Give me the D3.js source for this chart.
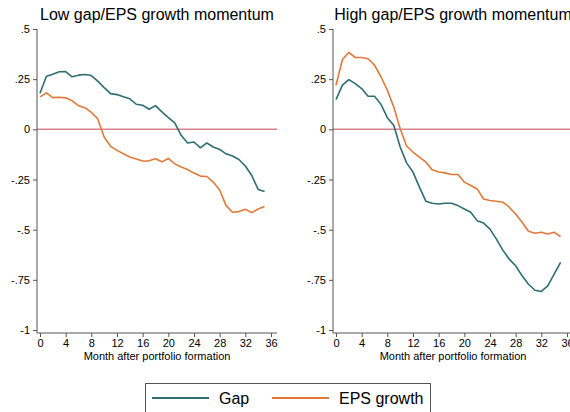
<!DOCTYPE html>
<html>
<head>
<meta charset="utf-8">
<script src="https://cdn.jsdelivr.net/npm/d3@7"></script>
<style>
  body { margin: 0; background: #fff; }
  svg { display: block; font-family: "Liberation Sans", Arial, sans-serif; }
</style>
</head>
<body>
<svg id="chart" width="570" height="412"></svg>
<script>
// months after portfolio formation
var months = d3.range(0, 36);
var xTicks = [0, 4, 8, 12, 16, 20, 24, 28, 32, 36];
var yTicks = [0.5, 0.25, 0, -0.25, -0.5, -0.75, -1];
var yTickLabels = [".5", ".25", "0", "-.25", "-.5", "-.75", "-1"];

var panelTitles = ["Low gap/EPS growth momentum", "High gap/EPS growth momentum"];
var seriesNames = ["Gap", "EPS growth"];
var seriesColors = ["#2e6e72", "#e0793a"];

// Low momentum panel
var lowGap = [0.18, 0.265, 0.275, 0.287, 0.288, 0.262, 0.27, 0.273, 0.268, 0.24,
  0.208, 0.178, 0.173, 0.162, 0.152, 0.125, 0.12, 0.10, 0.118, 0.087,
  0.058, 0.032, -0.03, -0.068, -0.063, -0.092, -0.068, -0.088, -0.1, -0.122,
  -0.133, -0.15, -0.183, -0.23, -0.30, -0.31];
var lowEps = [0.162, 0.182, 0.158, 0.16, 0.157, 0.142, 0.118, 0.108, 0.085, 0.052,
  -0.038, -0.085, -0.105, -0.122, -0.138, -0.148, -0.158, -0.157, -0.147, -0.162,
  -0.145, -0.172, -0.188, -0.2, -0.218, -0.233, -0.235, -0.263, -0.302, -0.38,
  -0.413, -0.41, -0.398, -0.415, -0.397, -0.385];

// High momentum panel
var highGap = [0.148, 0.22, 0.248, 0.228, 0.203, 0.165, 0.165, 0.125, 0.058, 0.02,
  -0.088, -0.167, -0.213, -0.288, -0.358, -0.368, -0.372, -0.368, -0.368, -0.38,
  -0.397, -0.413, -0.455, -0.467, -0.497, -0.547, -0.602, -0.647, -0.68, -0.73,
  -0.772, -0.802, -0.808, -0.78, -0.722, -0.663];
var highEps = [0.22, 0.348, 0.383, 0.358, 0.358, 0.352, 0.32, 0.262, 0.195, 0.112,
  0.003, -0.083, -0.113, -0.138, -0.163, -0.202, -0.213, -0.217, -0.225, -0.225,
  -0.263, -0.28, -0.297, -0.347, -0.355, -0.358, -0.363, -0.388, -0.422, -0.463,
  -0.508, -0.518, -0.513, -0.522, -0.513, -0.535];

var panels = [
  { title: panelTitles[0], series: [lowGap, lowEps], left: 37 },
  { title: panelTitles[1], series: [highGap, highEps], left: 333 }
];

var svg = d3.select("#chart");
var plotW = 240, top = 29, bottom = 333;

var y = d3.scaleLinear().domain([-1, 0.5]).range([330, 29]);

panels.forEach(function(p) {
  var g = svg.append("g").attr("transform", "translate(" + p.left + ",0)");

  var x = d3.scaleLinear().domain([0, 36]).range([3, 234]);

  // title
  g.append("text")
    .attr("x", plotW / 2)
    .attr("y", 20)
    .attr("text-anchor", "middle")
    .style("font-size", "16px")
    .text(p.title);

  // zero reference line
  g.append("line")
    .attr("x1", 0).attr("x2", plotW)
    .attr("y1", y(0)).attr("y2", y(0))
    .attr("stroke", "#d8858f").attr("stroke-width", 1.5);

  // y axis
  var yAxis = d3.axisLeft(y).tickValues(yTicks)
    .tickFormat(function(d, i) { return yTickLabels[i]; })
    .tickSize(4).tickPadding(3);
  var ya = g.append("g").call(yAxis);
  ya.select(".domain").attr("d", "M0," + y(0.5) + "V" + bottom);

  // x axis
  var xAxis = d3.axisBottom(x).tickValues(xTicks).tickSize(4).tickPadding(2);
  var xa = g.append("g").attr("transform", "translate(0," + bottom + ")").call(xAxis);
  xa.select(".domain").attr("d", "M0,0H" + plotW);

  [ya, xa].forEach(function(a) {
    a.selectAll(".domain, .tick line").attr("stroke", "#555");
    a.selectAll(".tick text").style("font-size", "11px").attr("fill", "#000")
      .style("font-family", "Liberation Sans, Arial, sans-serif");
  });

  g.append("text")
    .attr("x", plotW / 2)
    .attr("y", 360)
    .attr("text-anchor", "middle")
    .style("font-size", "11px")
    .text("Month after portfolio formation");

  var line = d3.line()
    .x(function(d, i) { return x(months[i]); })
    .y(function(d) { return y(d); });

  p.series.forEach(function(s, i) {
    g.append("path")
      .datum(s)
      .attr("d", line)
      .attr("fill", "none")
      .attr("stroke", seriesColors[i])
      .attr("stroke-width", 1.6)
      .attr("stroke-linejoin", "round");
  });
});

// legend
var lg = svg.append("g");
lg.append("rect")
  .attr("x", 145.5).attr("y", 383.5)
  .attr("width", 285).attr("height", 34)
  .attr("fill", "#fff").attr("stroke", "#555");

var legendX = [152, 272];
seriesNames.forEach(function(name, i) {
  lg.append("line")
    .attr("x1", legendX[i]).attr("x2", legendX[i] + 57)
    .attr("y1", 398).attr("y2", 398)
    .attr("stroke", seriesColors[i]).attr("stroke-width", 1.8);
  lg.append("text")
    .attr("x", legendX[i] + 67)
    .attr("y", 404)
    .style("font-size", "16px")
    .text(name);
});
</script>
</body>
</html>
